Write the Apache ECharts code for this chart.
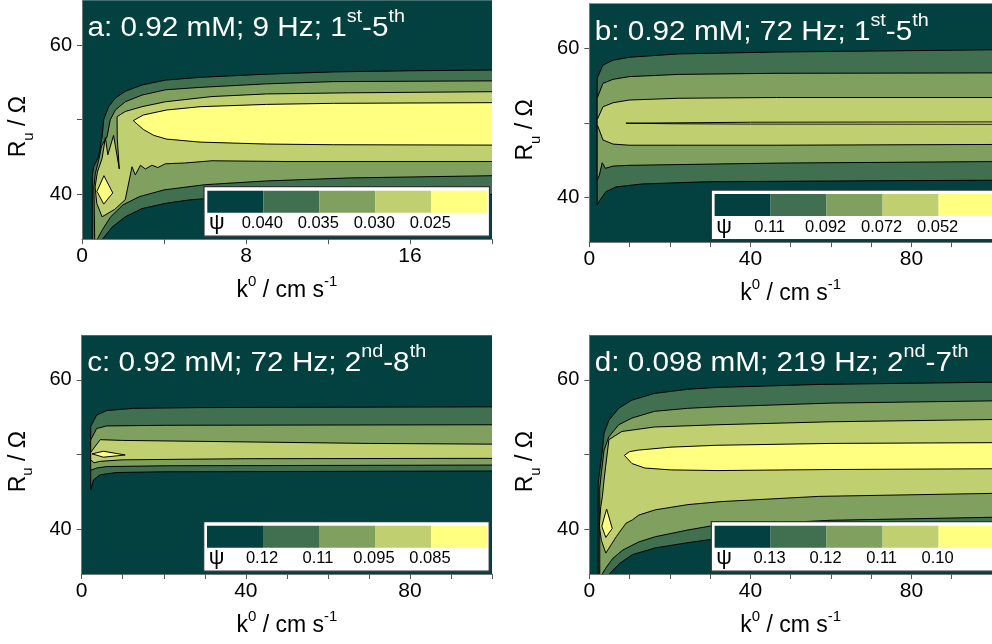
<!DOCTYPE html>
<html><head><meta charset="utf-8">
<script src="https://cdn.jsdelivr.net/npm/echarts@6/dist/echarts.min.js"></script>
<style>html,body{margin:0;padding:0;background:#fff}#c{width:992px;height:644px}</style>
</head><body><div id="c"></div>
<script>
// ---------- data ----------
const levelColors = ['#034040', '#417050', '#80A060', '#C0D070', '#FFFF80'];
const panelTitles = [
  '{m|a: 0.92 mM; 9 Hz; 1}{s|st}{m|-5}{s|th}',
  '{m|b: 0.92 mM; 72 Hz; 1}{s|st}{m|-5}{s|th}',
  '{m|c: 0.92 mM; 72 Hz; 2}{s|nd}{m|-8}{s|th}',
  '{m|d: 0.098 mM; 219 Hz; 2}{s|nd}{m|-7}{s|th}'
];
const legendLabels = [
  ['0.040', '0.035', '0.030', '0.025'],
  ['0.11', '0.092', '0.072', '0.052'],
  ['0.12', '0.11', '0.095', '0.085'],
  ['0.13', '0.12', '0.11', '0.10']
];
const xAxisTitle = '{m|k}{s|0}{m| / cm s}{s|-1}';
const yAxisTitle = '{m|R}{u|u}{m| / Ω}';
const xMax = [20, 100, 100, 100];
const xTicks = [[0, 4, 8, 12, 16, 20], [0, 10, 20, 30, 40, 50, 60, 70, 80, 90, 100], [0, 10, 20, 30, 40, 50, 60, 70, 80, 90, 100], [0, 10, 20, 30, 40, 50, 60, 70, 80, 90, 100]];
const xLabels = [[0, 8, 16], [0, 40, 80], [0, 40, 80], [0, 40, 80]];
const yMin = 34, yMax = 66;
const yTicks = [40, 50, 60];
const yLabels = [40, 60];

// contour regions [k0, Ru]; each region is the area where psi is below a level
const A1 = [[0.50,34.0],[0.50,42.4],[0.57,43.7],[0.81,45.05],[0.98,47.7],[1.06,50.0],[1.30,51.75],[1.63,52.9],[2.11,53.8],[2.93,54.65],[4.07,55.3],[5.76,55.67],[9.0,56.1],[12.26,56.4],[16,56.55],[20,56.65],[20,40.0],[12,39.8],[6.34,39.5],[5.2,39.25],[4.07,38.8],[2.93,38.1],[2.11,37.0],[1.46,35.6],[1.0,34.0]];
const A2 = [[0.62,34.0],[0.58,41.0],[0.65,42.8],[0.85,45.0],[0.95,46.5],[1.22,47.7],[1.38,50.0],[1.63,51.3],[2.11,52.4],[2.93,53.3],[4.07,54.0],[5.76,54.33],[9.0,54.8],[12.26,55.1],[20,55.2],[20,42.5],[13,42.2],[9,41.8],[6.0,41.3],[4.0,40.6],[2.8,39.7],[2.0,38.6],[1.4,37.0],[1.0,35.3],[0.75,34.0]];
const A3 = [[0.98,37.0],[0.72,38.8],[0.64,41.0],[0.75,43.0],[0.98,44.8],[1.14,47.6],[1.26,45.3],[1.54,47.9],[1.82,43.4],[1.72,47.5],[1.71,50.4],[2.11,51.1],[2.93,51.75],[4.07,52.4],[6.34,53.1],[9,53.45],[13,53.6],[20,53.75],[20,44.4],[10,44.4],[6.34,44.5],[5,44.2],[4.07,44.1],[3.7,43.6],[3.41,43.9],[3.09,43.4],[2.85,43.9],[2.6,42.6],[2.44,43.7],[2.11,39.3],[1.6,38.0]];
const A4 = [[2.50,49.87],[2.99,50.63],[4.13,51.3],[5.76,51.74],[9.01,52.05],[12.26,52.19],[20,52.28],[20,46.6],[12.26,46.65],[9.01,46.74],[5.76,47.0],[4.13,47.4],[3.5,47.9],[2.99,48.7]];
const A4b = [[1.07,42.5],[1.5,40.2],[1.06,38.7],[0.73,40.4]];

const B1 = [[1.95,38.97],[1.95,55.97],[3.4,57.76],[5.9,58.4],[9.9,58.8],[22.1,59.25],[46.4,59.5],[100,59.8],[100,42.3],[60,42.2],[29.3,42.1],[21.2,41.95],[13.1,41.8],[6.6,41.4],[4.1,40.75],[2.6,39.6]];
const B2 = [[1.95,42.3],[1.95,53.3],[3.4,55.3],[5.9,55.84],[9.9,56.2],[22.1,56.5],[46.4,56.65],[100,56.7],[100,44.8],[46.4,44.6],[22.1,44.4],[9.9,44.3],[5.9,44.2],[4.0,43.9],[3.2,44.65],[2.5,43.0]];
const B3 = [[1.95,49.8],[1.95,50.4],[3.4,52.16],[5.9,52.7],[9.9,53.06],[22.1,53.3],[46.4,53.4],[100,53.4],[100,47.1],[46.4,47.0],[22.1,47.0],[9.9,47.0],[5.9,47.15],[3.4,47.7]];
const B4 = [[9.1,49.95],[21,50.0],[40,50.08],[100,50.12],[100,49.82],[40,49.84],[21,49.88]];

const C1 = [[2.2,45.3],[2.2,53.75],[3.65,55.3],[6.1,55.9],[12.6,56.2],[28.8,56.3],[100,56.4],[100,47.8],[20.7,47.7],[8.5,47.6],[4.5,47.3],[2.85,46.6]];
const C2 = [[2.2,47.9],[2.2,51.96],[3.65,53.5],[6.1,53.84],[20.7,53.93],[100,54.0],[100,48.6],[20.7,48.5],[6.1,48.4],[3.65,48.2]];
const C3 = [[2.2,49.3],[2.2,50.3],[4.5,52.0],[10,51.9],[40,51.7],[70,51.5],[100,51.4],[100,49.5],[40,49.45],[10,49.3],[4.5,49.1],[3.0,48.9]];
const C4 = [[2.5,50.1],[5.3,50.45],[10.6,49.95],[5.3,49.65]];

const D1 = [[2.2,34.0],[2.2,46.2],[3.25,50.6],[3.66,52.86],[4.87,54.6],[7.3,56.2],[10.6,57.3],[16.2,58.2],[24.4,58.75],[31.7,59.0],[57,59.4],[100,59.7],[100,39.5],[60,39.2],[29.8,38.6],[24.5,38.2],[16.4,37.5],[10.7,36.6],[7.5,35.4],[5.0,34.0]];
const D2 = [[2.6,34.0],[2.6,45.5],[3.0,47.5],[3.66,50.6],[4.87,52.4],[7.3,54.0],[10.6,54.9],[16.2,55.8],[24.4,56.2],[31.7,56.4],[60,56.9],[100,57.2],[100,41.6],[60,41.2],[29.8,40.4],[24.5,39.9],[16.4,39.0],[12.3,38.3],[8.3,37.2],[5.85,36.1],[4.1,34.8],[3.2,34.0]];
const D3 = [[4.1,36.8],[3.0,38.5],[2.5,40.4],[2.84,43.0],[3.25,44.4],[3.66,46.6],[4.06,48.4],[4.87,52.0],[8.1,53.1],[16.2,53.7],[31.7,54.0],[60,54.4],[100,54.7],[100,44.8],[57,44.4],[32.7,43.7],[24.5,43.3],[16.4,42.6],[12.3,41.9],[10.7,41.25],[9.1,40.8],[6.7,39.0]];
const D4 = [[8.7,49.9],[10,50.4],[12.2,50.6],[20.3,51.0],[31.7,51.25],[60,51.5],[100,51.6],[100,48.1],[60,48.0],[31.7,47.86],[20.3,47.95],[13.8,48.2],[10.6,48.8]];
const D4b = [[4.3,42.7],[5.7,40.1],[4.1,38.9],[3.1,40.4]];

const panelRegions = [[A1, A2, A3, A4, A4b], [B1, B2, B3, B4], [C1, C2, C3, C4], [D1, D2, D3, D4, D4b]];
const panelLevels = [[1, 2, 3, 4, 4], [1, 2, 3, 4], [1, 2, 3, 4], [1, 2, 3, 4, 4]];

// ---------- layout ----------
const FONT = "'Liberation Sans', Arial, sans-serif";
const gridBoxes = [
  {left: 82, top: 0.2, width: 410, height: 239},
  {left: 589.3, top: 3.6, width: 410.5, height: 238.5},
  {left: 81.7, top: 335.2, width: 410.3, height: 238.8},
  {left: 589.3, top: 335.2, width: 410.5, height: 238.8}
];

const chart = echarts.init(document.getElementById('c'), null, {renderer: 'canvas'});

const grids = [], xAxes = [], yAxes = [], series = [], graphics = [];
gridBoxes.forEach((g, p) => {
  grids.push(Object.assign({show: true, backgroundColor: levelColors[0], borderWidth: 0}, g));
  xAxes.push({
    gridIndex: p, type: 'value', min: 0, max: xMax[p], interval: xMax[p] / 5,
    splitLine: {show: false},
    axisLine: {show: true, lineStyle: {color: '#777', width: 1}},
    axisTick: {show: true, length: 5, customValues: xTicks[p], lineStyle: {color: '#555'}},
    axisLabel: {customValues: xLabels[p], color: '#000', fontSize: 21, fontFamily: FONT, margin: 7},
    name: xAxisTitle, nameLocation: 'middle', nameGap: 35,
    nameTextStyle: {color: '#000', fontSize: 23, fontFamily: FONT,
      rich: {
        m: {fontSize: 23, fontFamily: FONT, color: '#000', lineHeight: 28, verticalAlign: 'bottom'},
        s: {fontSize: 15, fontFamily: FONT, color: '#000', lineHeight: 15, verticalAlign: 'top'}
      }}
  });
  yAxes.push({
    gridIndex: p, type: 'value', min: yMin, max: yMax,
    splitLine: {show: false},
    axisLine: {show: true, lineStyle: {color: '#777', width: 1}},
    axisTick: {show: true, length: 5, customValues: yTicks, lineStyle: {color: '#555'}},
    axisLabel: {customValues: yLabels, color: '#000', fontSize: 20, fontFamily: FONT, margin: 10},
    name: yAxisTitle, nameLocation: 'middle', nameGap: 50, nameRotate: 90,
    nameTextStyle: {color: '#000', fontSize: 23, fontFamily: FONT, padding: [0, 14, 0, 0],
      rich: {
        m: {fontSize: 23, fontFamily: FONT, color: '#000', lineHeight: 25, verticalAlign: 'top'},
        u: {fontSize: 15, fontFamily: FONT, color: '#000', lineHeight: 15, verticalAlign: 'top', padding: [14, 0, 0, 0]}
      }}
  });
  const regions = panelRegions[p], levels = panelLevels[p], xm = xMax[p];
  series.push({
    type: 'custom', xAxisIndex: p, yAxisIndex: p, clip: true, silent: true,
    data: regions.map((r, i) => [r[0][0], r[0][1], i]),
    encode: {x: 0, y: 1},
    renderItem: function (params, api) {
      const poly = regions[params.dataIndex];
      const pts = poly.map(pt => api.coord(pt));
      const n = poly.length, segs = [];
      let cur = [pts[0]];
      for (let j = 1; j <= n; j++) {
        const a = poly[j - 1], b = poly[j % n];
        const onEdge = (a[0] === xm && b[0] === xm) || (a[1] === yMin && b[1] === yMin);
        if (onEdge) { if (cur.length > 1) segs.push(cur); cur = [pts[j % n]]; }
        else cur.push(pts[j % n]);
      }
      if (cur.length > 1) segs.push(cur);
      const children = [{type: 'polygon', shape: {points: pts}, style: {fill: levelColors[levels[params.dataIndex]], stroke: null}}];
      segs.forEach(s => children.push({type: 'polyline', shape: {points: s}, style: {stroke: '#000', lineWidth: 1, fill: null}}));
      return {type: 'group', children: children};
    }
  });
  // panel title
  graphics.push({
    type: 'text', x: g.left + 5.5, y: g.top + 25, z: 50, scaleX: 1.1,
    style: {text: panelTitles[p], fill: '#fff', font: '27px ' + FONT, textVerticalAlign: 'middle',
      rich: {
        m: {fontSize: 27, fontFamily: FONT, fill: '#fff', lineHeight: 34, verticalAlign: 'bottom'},
        s: {fontSize: 18, fontFamily: FONT, fill: '#fff', lineHeight: 18, verticalAlign: 'top'}
      }}
  });
  // legend box
  const lx = g.left + 122, ly = g.top + 186.5;
  graphics.push({type: 'rect', z: 60, shape: {x: lx, y: ly, width: 285.5, height: 49.5}, style: {fill: '#fff', stroke: '#333', lineWidth: 1.2}});
  levelColors.forEach((c, i) => {
    graphics.push({type: 'rect', z: 61, shape: {x: lx + 3.3 + 56 * i, y: ly + 4, width: 56, height: 22}, style: {fill: c, stroke: null}});
  });
  graphics.push({type: 'text', z: 62, x: lx + 5, y: ly + 36.5, style: {text: 'ψ', fill: '#000', font: '22px ' + FONT, textVerticalAlign: 'middle'}});
  legendLabels[p].forEach((t, i) => {
    graphics.push({type: 'text', z: 62, x: lx + 3.3 + 56 * (i + 1) - 1, y: ly + 37, style: {text: t, fill: '#000', font: '16.5px ' + FONT, textAlign: 'center', textVerticalAlign: 'middle'}});
  });
});

chart.setOption({
  animation: false,
  grid: grids, xAxis: xAxes, yAxis: yAxes, series: series, graphic: graphics
});
</script></body></html>
